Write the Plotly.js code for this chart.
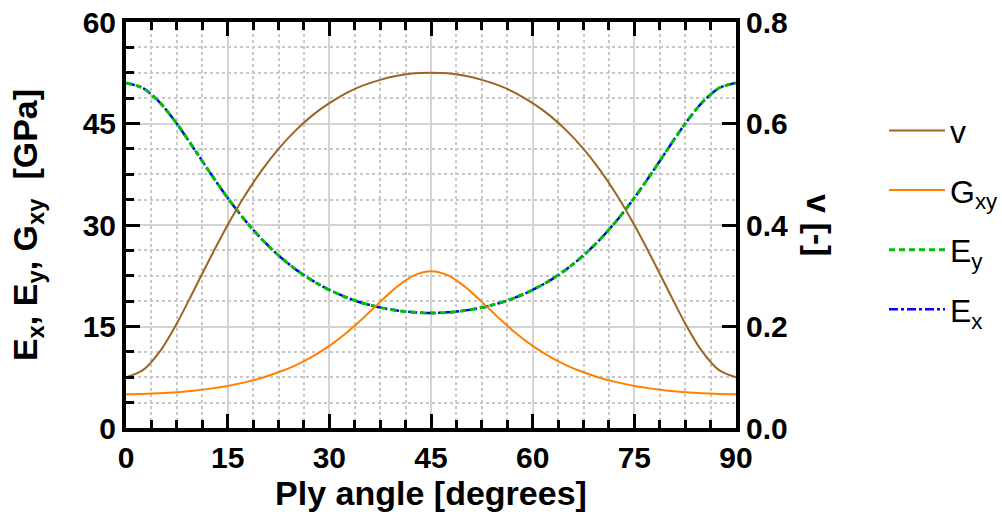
<!DOCTYPE html>
<html>
<head>
<meta charset="utf-8">
<script src="https://cdn.plot.ly/plotly-3.0.1.min.js"></script>
<style>
html,body{margin:0;padding:0;background:#fff;}
#chart{width:1002px;height:520px;}
</style>
</head>
<body>
<div id="chart"></div>
<script>
// Ply angle [degrees]
var angles = [0,2.5,5,7.5,10,12.5,15,17.5,20,22.5,25,27.5,30,32.5,35,37.5,40,42.5,45,
              47.5,50,52.5,55,57.5,60,62.5,65,67.5,70,72.5,75,77.5,80,82.5,85,87.5,90];
// Poisson ratio nu [-] (right axis)
var nuValues = [0.100,0.114,0.151,0.206,0.271,0.337,0.400,0.457,0.507,0.550,0.586,0.616,0.640,0.660,0.675,0.686,0.694,0.699,0.700,
                0.699,0.694,0.686,0.675,0.660,0.640,0.616,0.586,0.550,0.507,0.457,0.400,0.337,0.271,0.206,0.151,0.114,0.100];
// Shear modulus Gxy [GPa]
var gxyValues = [5.00,5.03,5.12,5.28,5.51,5.82,6.22,6.74,7.40,8.23,9.26,10.56,12.14,14.05,16.26,18.64,20.89,22.56,23.18,
                 22.56,20.89,18.64,16.26,14.05,12.14,10.56,9.26,8.23,7.40,6.74,6.22,5.82,5.51,5.28,5.12,5.03,5.00];
// Young's modulus Ey [GPa]
var eyValues = [51.0,50.24,48.1,44.98,41.33,37.58,34.0,30.77,27.93,25.51,23.47,21.78,20.41,19.30,18.44,17.80,17.35,17.09,17.0,
                17.09,17.35,17.80,18.44,19.30,20.41,21.78,23.47,25.51,27.93,30.77,34.0,37.58,41.33,44.98,48.1,50.24,51.0];
// Young's modulus Ex [GPa]
var exValues = [51.0,50.24,48.1,44.98,41.33,37.58,34.0,30.77,27.93,25.51,23.47,21.78,20.41,19.30,18.44,17.80,17.35,17.09,17.0,
                17.09,17.35,17.80,18.44,19.30,20.41,21.78,23.47,25.51,27.93,30.77,34.0,37.58,41.33,44.98,48.1,50.24,51.0];

var seriesNames = ['v','G<sub>xy</sub>','E<sub>y</sub>','E<sub>x</sub>'];
var xTicks = [0,15,30,45,60,75,90];
var yTicks = [0,15,30,45,60];
var y2Ticks = [0,0.2,0.4,0.6,0.8];

var FONT = 'Liberation Sans, Arial, sans-serif';

var traces = [
  {x: angles, y: exValues, name: seriesNames[3], type: 'scatter', mode: 'lines',
   line: {color: '#0000ff', width: 2.5, dash: 'dashdot', shape: 'spline', smoothing: 0.8},
   legendrank: 4, legendgroup: 'd', yaxis: 'y'},
  {x: angles, y: eyValues, name: seriesNames[2], type: 'scatter', mode: 'lines',
   line: {color: '#00c000', width: 3, dash: '6px,4px', shape: 'spline', smoothing: 0.8},
   legendrank: 3, legendgroup: 'c', yaxis: 'y'},
  {x: angles, y: gxyValues, name: seriesNames[1], type: 'scatter', mode: 'lines',
   line: {color: '#ff8000', width: 2, shape: 'spline', smoothing: 0.8},
   legendrank: 2, legendgroup: 'b', yaxis: 'y'},
  {x: angles, y: nuValues, name: seriesNames[0], type: 'scatter', mode: 'lines',
   line: {color: '#9b6523', width: 2, shape: 'spline', smoothing: 0.8},
   legendrank: 1, legendgroup: 'a', yaxis: 'y2'}
];

var layout = {
  width: 1002, height: 520,
  margin: {l: 126, r: 266, t: 22, b: 92, autoexpand: false},
  paper_bgcolor: '#ffffff', plot_bgcolor: '#ffffff',
  font: {family: FONT, color: '#000'},
  showlegend: true,
  legend: {
    x: 1.2426, xanchor: 'left', y: 0.80, yanchor: 'top',
    font: {family: FONT, size: 32, color: '#000'},
    itemwidth: 56, tracegroupgap: 15, bgcolor: 'rgba(0,0,0,0)', borderwidth: 0
  },
  xaxis: {
    range: [0, 90], tickvals: xTicks, ticktext: xTicks.map(String), automargin: false,
    ticks: 'inside', ticklen: 14, tickwidth: 3, tickcolor: '#000',
    showline: true, linewidth: 4, linecolor: '#000', mirror: 'ticks',
    showgrid: true, gridcolor: '#d4d4d4', gridwidth: 2, zeroline: false,
    tickfont: {family: FONT, size: 30, weight: 'bold', color: '#000'},
    minor: {dtick: 3.75, tick0: 0, ticks: 'inside', ticklen: 8, tickwidth: 3, tickcolor: '#000',
            showgrid: true, gridcolor: '#c8c8c8', gridwidth: 2, griddash: 'dot'},
    title: {text: 'Ply angle [degrees]', font: {family: FONT, size: 34, weight: 'bold', color: '#000'}, standoff: 6}
  },
  yaxis: {
    range: [0, 60], tickvals: yTicks, ticktext: yTicks.map(String), automargin: false,
    ticks: 'inside', ticklen: 14, tickwidth: 3, tickcolor: '#000',
    showline: true, linewidth: 4, linecolor: '#000', mirror: false,
    showgrid: true, gridcolor: '#d4d4d4', gridwidth: 2, zeroline: false,
    tickfont: {family: FONT, size: 30, weight: 'bold', color: '#000'},
    minor: {dtick: 3.75, tick0: 0, ticks: 'inside', ticklen: 8, tickwidth: 3, tickcolor: '#000',
            showgrid: true, gridcolor: '#c8c8c8', gridwidth: 2, griddash: 'dot'},
    title: {text: 'E<sub>x</sub>, E<sub>y</sub>, G<sub>xy</sub>\u00a0\u00a0[GPa]', font: {family: FONT, size: 34, weight: 'bold', color: '#000'}, standoff: 36}
  },
  yaxis2: {
    overlaying: 'y', side: 'right', range: [0, 0.8], automargin: false,
    tickvals: y2Ticks, ticktext: y2Ticks.map(function(v){return v.toFixed(1);}),
    ticks: 'inside', ticklen: 14, tickwidth: 3, tickcolor: '#000',
    showline: true, linewidth: 4, linecolor: '#000',
    showgrid: false, zeroline: false,
    tickfont: {family: FONT, size: 30, weight: 'bold', color: '#000'}
  },
  annotations: [{
    text: 'v [-]', xref: 'paper', yref: 'paper', x: 1.136, y: 0.5,
    xanchor: 'center', yanchor: 'middle', textangle: 90, showarrow: false,
    font: {family: FONT, size: 34, weight: 'bold', color: '#000'}
  }]
};

Plotly.newPlot('chart', traces, layout, {displayModeBar: false, staticPlot: true});
</script>
</body>
</html>
